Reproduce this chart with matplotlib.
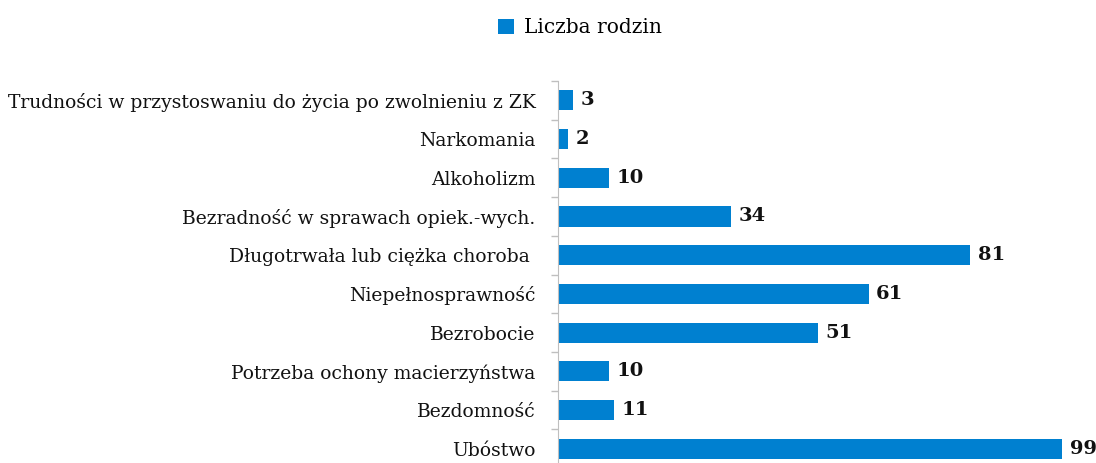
import numpy as np
import matplotlib.pyplot as plt
from matplotlib.patches import Patch

# dane (od dołu do góry)
categories = [
    "Ubóstwo",
    "Bezdomność",
    "Potrzeba ochony macierzyństwa",
    "Bezrobocie",
    "Niepełnosprawność",
    "Długotrwała lub ciężka choroba ",
    "Bezradność w sprawach opiek.-wych.",
    "Alkoholizm",
    "Narkomania",
    "Trudności w przystoswaniu do życia po zwolnieniu z ZK",
]
values = [99, 11, 10, 51, 61, 81, 34, 10, 2, 3]
series_name = "Liczba rodzin"

bar_color = "#0080D0"
axis_color = "#BFBFBF"

plt.rcParams['font.family'] = ['DejaVu Serif']

fig = plt.figure(figsize=(10.96, 4.63), dpi=100)
ax = fig.add_axes([0.509, -0.011, 0.488, 0.836])

y = np.arange(len(categories))
bars = ax.barh(y, values, height=0.52, color=bar_color)

for yi, v in zip(y, values):
    ax.text(v + 1.5, yi, str(v), va='center', ha='left',
            fontsize=14, fontweight='bold', color='#111111')

ax.set_xlim(0, 105)
ax.set_ylim(-0.5, len(categories) - 0.5)
ax.set_yticks(y)
ax.set_yticklabels(categories, fontsize=13.5, color='#111111')
ax.set_yticks(np.arange(len(categories) + 1) - 0.5, minor=True)
ax.tick_params(axis='y', which='major', length=0, pad=16)
ax.tick_params(axis='y', which='minor', length=5, color=axis_color, width=1)
ax.set_xticks([])

for s in ['top', 'right', 'bottom']:
    ax.spines[s].set_visible(False)
ax.spines['left'].set_color(axis_color)

handle = Patch(facecolor=bar_color, edgecolor='none')
fig.legend([handle], [series_name], loc='center', bbox_to_anchor=(0.529, 0.94),
           frameon=False, fontsize=14.5, handlelength=0.8, handleheight=0.8,
           handletextpad=0.5)

fig.savefig("out.png", dpi=100)
